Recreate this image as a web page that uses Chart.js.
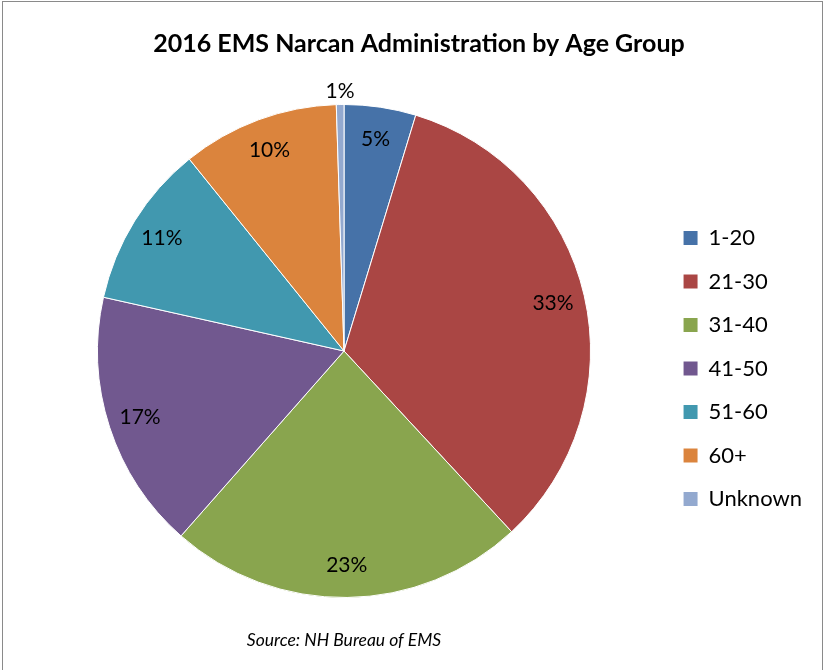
<!doctype html>
<html lang="en">
<head>
<meta charset="utf-8">
<title>2016 EMS Narcan Administration by Age Group</title>
<script src="https://cdn.jsdelivr.net/npm/chart.js@4.4.1/dist/chart.umd.min.js"></script>
<style>
    body { margin: 0; background: #fff; }
    #frame {
        position: absolute; left: 2px; top: 1px; width: 819px; height: 700px;
        border: 1px solid #8a8a8a; pointer-events: none;
    }
    #chart { position: absolute; left: 0; top: 0; }
</style>
</head>
<body>
<canvas id="chart" width="825" height="670"></canvas>
<div id="frame"></div>

<script>
    // age groups and their share of administrations (in %)
    var ageGroups = ["1-20", "21-30", "31-40", "41-50", "51-60", "60+", "Unknown"];
    var shares = [4.7, 33.4, 23.4, 17.0, 10.7, 10.3, 0.5];
    var sliceColors = ["#4672A8", "#AA4644", "#89A54E", "#71588F", "#4198AF", "#DB843D", "#93A9CF"];

    var chartTitle = "2016 EMS Narcan Administration by Age Group";
    var sourceNote = "Source: NH Bureau of EMS";

    Chart.defaults.color = "#000";
    Chart.defaults.font.family = "Lato, 'Liberation Sans', sans-serif";

    // percent labels on the slices, tiny slices get theirs outside
    var sliceLabels = {
        id: "sliceLabels",
        afterDatasetsDraw: function(chart) {
            var ctx = chart.ctx;
            var meta = chart.getDatasetMeta(0);
            var data = chart.data.datasets[0].data;
            var total = data.reduce(function(a, b) { return a + b; }, 0);
            ctx.save();
            ctx.font = "21px Lato, 'Liberation Sans', sans-serif";
            ctx.fillStyle = "#000";
            ctx.textAlign = "center";
            ctx.textBaseline = "middle";
            meta.data.forEach(function(arc, i) {
                var p = arc.getProps(["x", "y", "startAngle", "endAngle", "outerRadius"], true);
                var mid = (p.startAngle + p.endAngle) / 2;
                var pct = data[i] / total * 100;
                var r = pct < 2 ? p.outerRadius + 13 : p.outerRadius * 0.87;
                ctx.fillText(Math.round(pct) + "%", p.x + Math.cos(mid) * r, p.y + Math.sin(mid) * r);
            });
            ctx.restore();
        }
    };

    var ctx = document.getElementById("chart").getContext("2d");
    var myPie = new Chart(ctx, {
        type: "pie",
        data: {
            labels: ageGroups,
            datasets: [{
                data: shares,
                backgroundColor: sliceColors,
                borderColor: "#fff",
                borderWidth: 1,
                hoverOffset: 0
            }]
        },
        options: {
            responsive: false,
            animation: false,
            layout: { padding: { left: 26, right: 13, top: 0, bottom: 0 } },
            plugins: {
                title: {
                    display: true,
                    text: chartTitle,
                    font: { size: 25, weight: "bold" },
                    padding: { top: 29, bottom: 45 }
                },
                subtitle: {
                    display: true,
                    text: sourceNote,
                    position: "bottom",
                    fullSize: false,
                    font: { size: 17.5, style: "italic" },
                    padding: { top: 31.5, bottom: 19.5 }
                },
                legend: {
                    position: "right",
                    fullSize: false,
                    title: { display: true, text: " ", font: { size: 10 }, padding: 11.5 },
                    labels: {
                        boxWidth: 14,
                        boxHeight: 14,
                        padding: 21.5,
                        font: { size: 22 },
                        generateLabels: function(chart) {
                            return Chart.overrides.pie.plugins.legend.labels.generateLabels(chart).map(function(l) {
                                l.lineWidth = 0;
                                return l;
                            });
                        }
                    }
                },
                tooltip: { enabled: false }
            }
        },
        plugins: [sliceLabels]
    });
</script>
</body>
</html>
